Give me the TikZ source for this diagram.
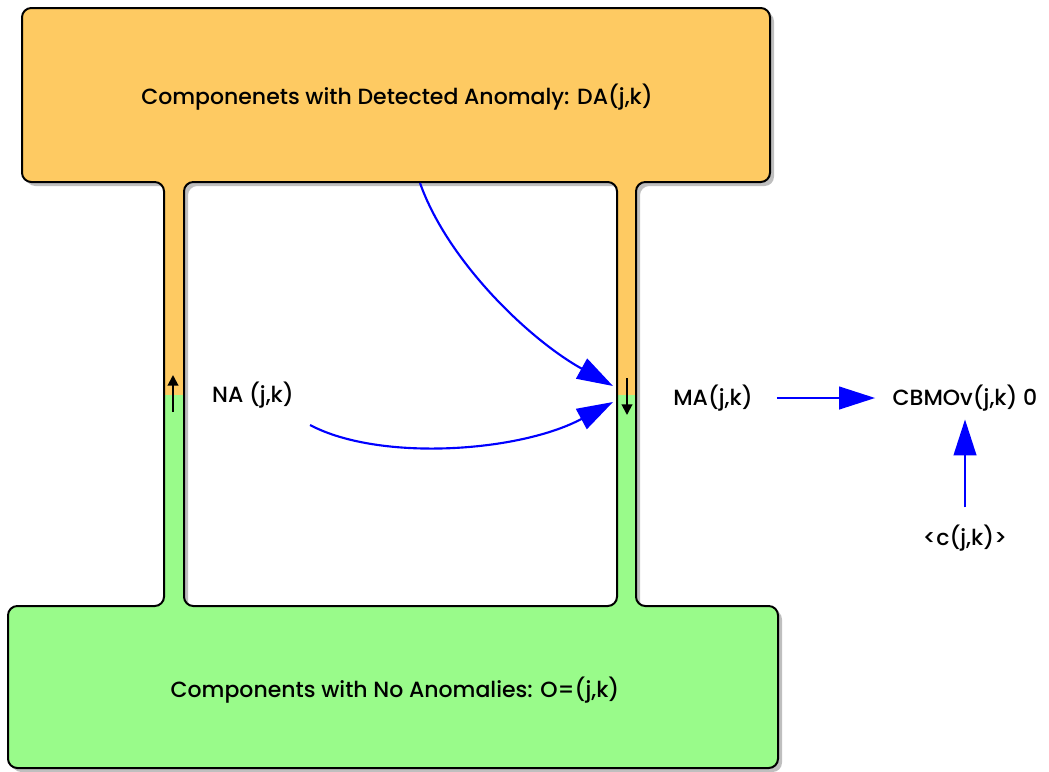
\documentclass[tikz,border=0pt]{standalone}
\usepackage{fontspec}
\setmainfont{Poppins}[UprightFont={* Medium}]
\usepackage{tikz}
\usetikzlibrary{arrows.meta}

\definecolor{anomorange}{RGB}{254,202,98}
\definecolor{okgreen}{RGB}{153,251,138}
\definecolor{flowblue}{RGB}{0,0,255}

\tikzset{
  flow/.style={color=flowblue,line width=1.6pt,-{Triangle[length=27pt,width=17pt]}},
  pipearrow/.style={line width=1.5pt,-{Triangle[length=8pt,width=8pt]}},
  lbl/.style={inner sep=0pt,font=\fontsize{16.5}{20}\selectfont},
}

% outline: top box, two pipes, bottom box, hole in the middle
\newcommand\tankshape{(22,8) -- (770,8) -- (770,182) -- (636,182) -- (636,606)
  -- (778,606) -- (778,768) -- (8,768) -- (8,606) -- (164,606) -- (164,182)
  -- (22,182) -- cycle
  (184,182) -- (617,182) -- (617,606) -- (184,606) -- cycle}

\begin{document}
\begin{tikzpicture}[x=0.75pt,y=-0.75pt]
        \useasboundingbox (0,0) rectangle (1049,771);
        % shadow, green fill, orange fill down to the level line
        \fill[black!25,shift={(4,4)},even odd rule,rounded corners=7pt] \tankshape;
        \fill[okgreen,even odd rule,rounded corners=7pt] \tankshape;
        \begin{scope}
          \clip (0,0) rectangle (1049,394);
          \fill[anomorange,even odd rule,rounded corners=7pt] \tankshape;
        \end{scope}
        \draw[line width=1.5pt,rounded corners=7pt] \tankshape;
        % labels
        \node[lbl] (da) at (397,97) {Componenets with Detected Anomaly: DA(j,k)};
        \node[lbl] (noa) at (395,690) {Components with No Anomalies: O=(j,k)};
        \node[lbl] (na) at (253,395) {NA (j,k)};
        \node[lbl] (ma) at (713,398) {MA(j,k)};
        \node[lbl] (cbmo) at (965,398) {CBMOv(j,k) 0};
        \node[lbl] (cjk) at (965,538) {<c(j,k)>};
        % flows into the right pipe
        \coordinate (dabottom) at (420,183);
        \coordinate (mainA) at (613,386);
        \coordinate (natail) at (310,425);
        \coordinate (mainB) at (613,402);
        \draw[flow] (dabottom) .. controls (448,262) and (530,340) .. (mainA);
        \draw[flow] (natail) .. controls (380,462) and (520,452) .. (mainB);
        \draw[flow,shorten <=18pt,shorten >=13pt] (ma.east) -- (cbmo.west);
        \draw[flow,shorten <=13pt,shorten >=6pt] (cjk.north) -- (cjk.north |- cbmo.south);
        % small arrows in the pipes
        \coordinate (upA) at (173,412);
        \coordinate (upB) at (173,375);
        \coordinate (downA) at (627,378);
        \coordinate (downB) at (627,415);
        \draw[pipearrow] (upA) -- (upB);
        \draw[pipearrow] (downA) -- (downB);
\end{tikzpicture}
\end{document}
